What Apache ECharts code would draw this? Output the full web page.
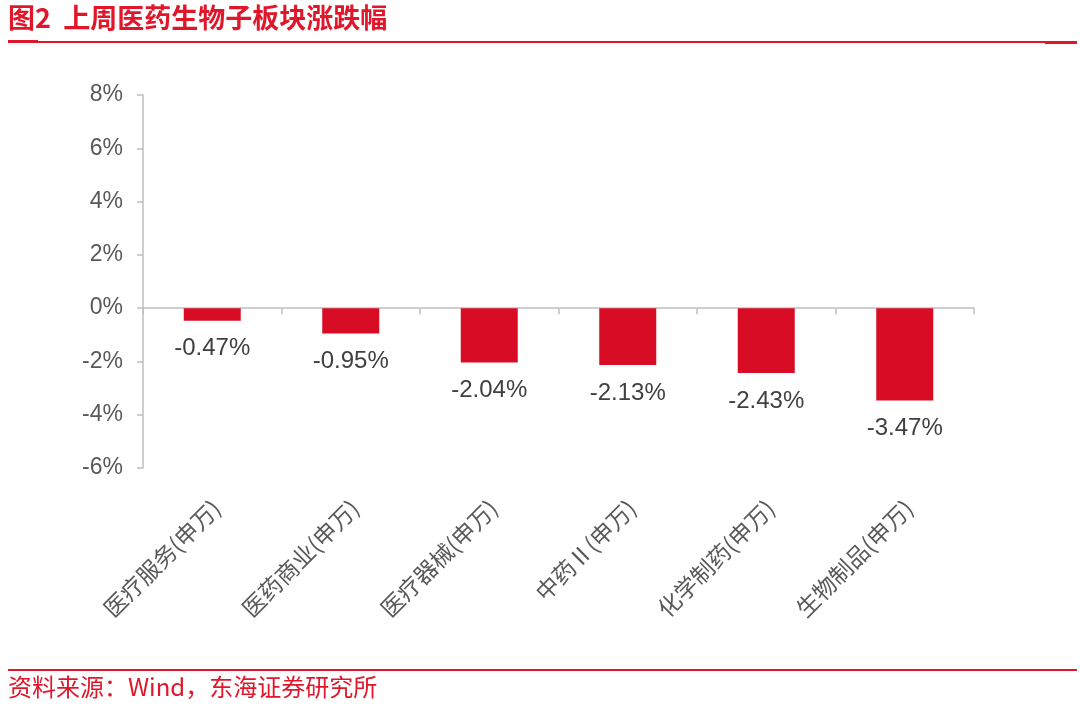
<!DOCTYPE html>
<html>
<head>
<meta charset="utf-8">
<script src="https://cdn.jsdelivr.net/npm/echarts@6/dist/echarts.min.js"></script>
<style>
html,body{margin:0;padding:0;background:#fff;}
#c{width:1080px;height:708px;}
</style>
</head>
<body>
<div id="c"></div>
<script>
const titleText = '图2  上周医药生物子板块涨跌幅';
const sourceText = '资料来源：Wind，东海证券研究所';
const categories = ['医疗服务(申万)', '医药商业(申万)', '医疗器械(申万)', '中药Ⅱ(申万)', '化学制药(申万)', '生物制品(申万)'];
const changes = [-0.47, -0.95, -2.04, -2.13, -2.43, -3.47];
const yMin = -6, yMax = 8, yStep = 2;

const red = '#E0162B';
const font = '"Noto Sans CJK SC", "Noto Sans", sans-serif';
const latin = '"Liberation Sans", Arial, sans-serif';
const chart = echarts.init(document.getElementById('c'));
chart.setOption({
  animation: false,
  backgroundColor: '#fff',
  textStyle: { fontFamily: font },
  grid: [
    { left: 143, right: 106, top: 95, bottom: 240, containLabel: false },
    { left: 147, right: 102, top: 95, bottom: 240, containLabel: false }
  ],
  graphic: [
    { type: 'text', left: 8, top: 4, style: { text: titleText, fill: red, font: 'bold 27px ' + font } },
    { type: 'rect', shape: { x: 8, y: 41, width: 1069, height: 2 }, style: { fill: red } },
    { type: 'rect', shape: { x: 8, y: 40, width: 30, height: 3 }, style: { fill: red } },
    { type: 'rect', shape: { x: 1045, y: 41, width: 32, height: 3 }, style: { fill: red } },
    { type: 'rect', shape: { x: 8, y: 669, width: 1069, height: 2 }, style: { fill: red } },
    { type: 'text', left: 8, top: 675, style: { text: sourceText, fill: red, font: '24px ' + font } }
  ],
  xAxis: [
    {
      type: 'category', data: categories, gridIndex: 0,
      axisLine: { onZero: true, lineStyle: { color: '#BFBFBF', width: 1.5 } },
      axisTick: { show: true, length: 6, lineStyle: { color: '#BFBFBF', width: 1.5 } },
      axisLabel: { show: false }
    },
    {
      type: 'category', data: categories, gridIndex: 1, position: 'bottom',
      axisLine: { show: false, onZero: false }, axisTick: { show: false },
      axisLabel: { rotate: 45, margin: 36, color: '#595959', fontSize: 23, fontFamily: font, interval: 0 }
    }
  ],
  yAxis: [
    {
      type: 'value', min: yMin, max: yMax, interval: yStep, gridIndex: 0,
      axisLine: { show: true, lineStyle: { color: '#BFBFBF', width: 1.5 } },
      axisTick: { show: true, length: 6, lineStyle: { color: '#BFBFBF', width: 1.5 } },
      splitLine: { show: false },
      axisLabel: { formatter: '{value}%', color: '#595959', fontSize: 23, margin: 20, fontFamily: latin }
    },
    { type: 'value', gridIndex: 1, show: false, min: yMin, max: yMax }
  ],
  series: [{
    type: 'bar', data: changes, xAxisIndex: 0, yAxisIndex: 0, barWidth: 57,
    itemStyle: { color: '#D80C24' },
    label: {
      show: true, position: 'bottom', distance: 16,
      formatter: p => p.value.toFixed(2) + '%',
      color: '#404040', fontSize: 24, fontFamily: latin
    }
  }]
});
</script>
</body>
</html>
